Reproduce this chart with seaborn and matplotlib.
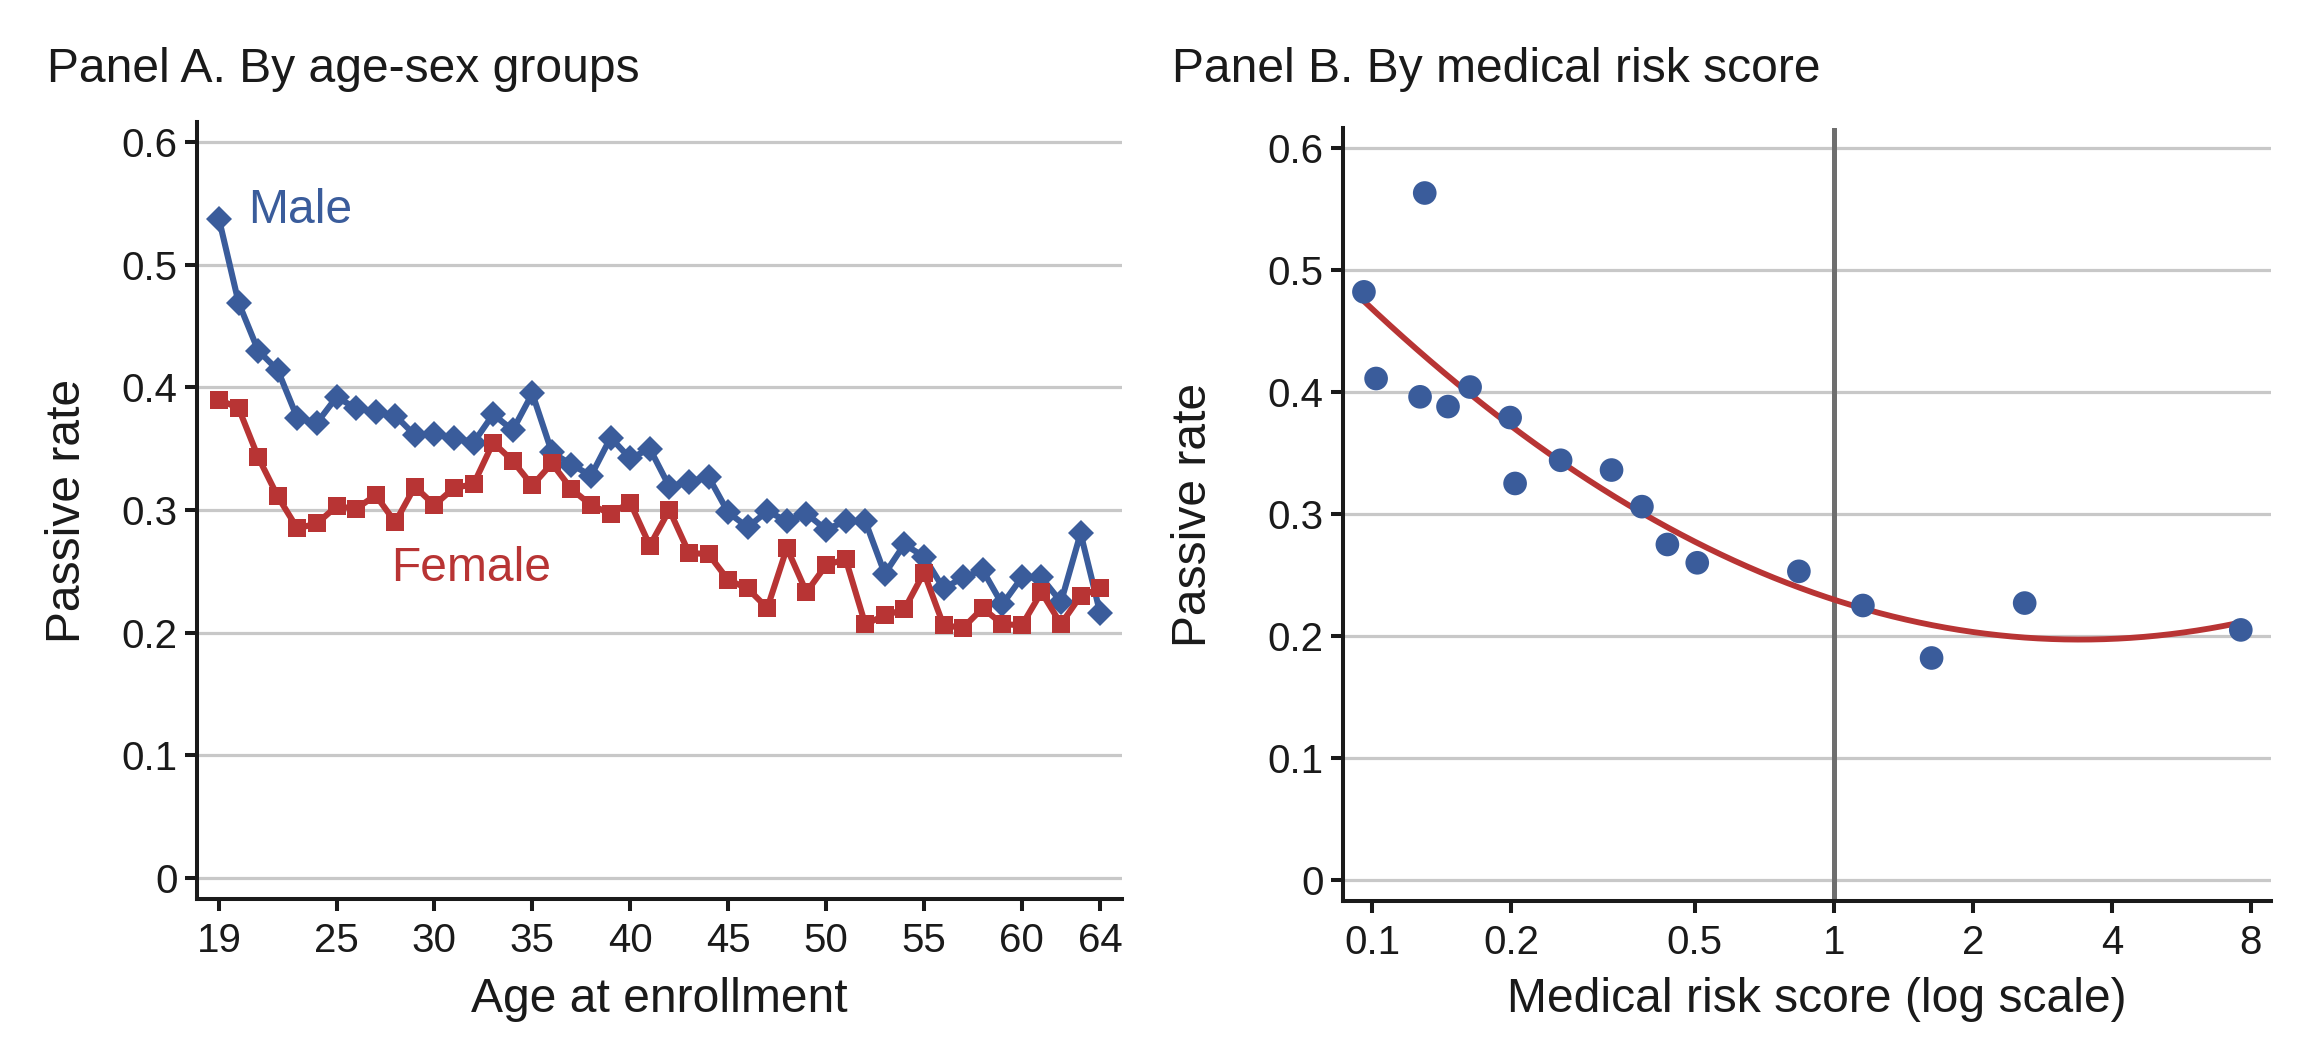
import numpy as np
import seaborn as sns
import matplotlib.pyplot as plt

# ---- data ----
ages = list(range(19, 65))
male_rate = [0.537, 0.469, 0.430, 0.414, 0.375, 0.371, 0.392, 0.383, 0.380, 0.377,
             0.361, 0.362, 0.359, 0.355, 0.378, 0.365, 0.395, 0.347, 0.337, 0.328,
             0.359, 0.342, 0.350, 0.319, 0.323, 0.327, 0.298, 0.286, 0.299, 0.291,
             0.297, 0.284, 0.291, 0.291, 0.248, 0.272, 0.262, 0.236, 0.245, 0.251,
             0.223, 0.245, 0.245, 0.225, 0.281, 0.216]
female_rate = [0.390, 0.383, 0.343, 0.311, 0.285, 0.289, 0.303, 0.301, 0.312, 0.290,
               0.319, 0.304, 0.318, 0.321, 0.355, 0.340, 0.320, 0.338, 0.317, 0.304,
               0.297, 0.306, 0.271, 0.300, 0.265, 0.264, 0.243, 0.236, 0.220, 0.269,
               0.233, 0.255, 0.260, 0.207, 0.214, 0.219, 0.249, 0.206, 0.204, 0.220,
               0.207, 0.206, 0.233, 0.207, 0.230, 0.236]

risk_score = [0.096, 0.102, 0.130, 0.127, 0.146, 0.163, 0.199, 0.204, 0.256,
              0.330, 0.384, 0.436, 0.506, 0.840, 1.156, 1.628, 2.59, 7.61]
risk_rate = [0.482, 0.411, 0.563, 0.396, 0.388, 0.404, 0.379, 0.325, 0.344,
             0.336, 0.306, 0.275, 0.260, 0.253, 0.225, 0.182, 0.227, 0.205]

rate_ticks = [0, 0.1, 0.2, 0.3, 0.4, 0.5, 0.6]
rate_labels = ['0', '0.1', '0.2', '0.3', '0.4', '0.5', '0.6']
age_ticks = [19, 25, 30, 35, 40, 45, 50, 55, 60, 64]
risk_ticks = [0.1, 0.2, 0.5, 1, 2, 4, 8]
risk_labels = ['0.1', '0.2', '0.5', '1', '2', '4', '8']

blue = '#3a5c9b'
red = '#b83434'
ink = '#1a1a1a'
grid_col = '#c8c8c8'
big = 34.6

sns.set_theme(style='white')
plt.rcParams['font.family'] = ['Liberation Sans', 'DejaVu Sans']
plt.rcParams.update({
    'text.color': ink, 'axes.labelcolor': ink,
    'xtick.color': ink, 'ytick.color': ink,
    'axes.edgecolor': ink, 'axes.linewidth': 2.9,
    'xtick.major.size': 8.5, 'ytick.major.size': 8.5,
    'xtick.major.width': 2.9, 'ytick.major.width': 2.9,
    'xtick.major.pad': 8.0, 'ytick.major.pad': 5.6,
    'xtick.labelsize': 29, 'ytick.labelsize': 29,
    'xtick.bottom': True, 'ytick.left': True,
})

fig = plt.figure(figsize=(23.16, 10.48), dpi=100)
axA = fig.add_axes([0.0851, 0.1422, 0.3994, 0.7414])
axB = fig.add_axes([0.5799, 0.1403, 0.4007, 0.7376])


def style_axis(ax):
    sns.despine(ax=ax)
    ax.set_ylim(-0.0171, 0.6163)
    ax.set_yticks(rate_ticks)
    ax.set_yticklabels(rate_labels)
    for t in rate_ticks:
        ax.axhline(t, color=grid_col, lw=2.3, zorder=0.5)
    ax.set_ylabel('Passive rate', fontsize=big, va='baseline')
    ax.tick_params(which='minor', length=0)


# Panel A
sns.lineplot(x=ages, y=male_rate, ax=axA, color=blue, marker='D',
             markersize=13.5, markeredgewidth=0, zorder=3)
axA.lines[-1].set_linewidth(4.4)
sns.lineplot(x=ages, y=female_rate, ax=axA, color=red, marker='s',
             markersize=13.5, markeredgewidth=0, zorder=4)
axA.lines[-1].set_linewidth(4.4)
style_axis(axA)
axA.set_xlim(17.88, 65.12)
axA.set_xticks(age_ticks)
axA.set_xticklabels([str(a) for a in age_ticks])
axA.set_xlabel('Age at enrollment', fontsize=big, va='baseline')
axA.xaxis.set_label_coords(0.5, -0.1454)
axA.yaxis.set_label_coords(-0.1265, 0.5)
axA.text(20.5, 0.534, 'Male', color=blue, fontsize=big, va='baseline')
axA.text(27.8, 0.242, 'Female', color=red, fontsize=big, va='baseline')

# Panel B
axB.set_xscale('log')
axB.axvline(1, color='#6e6e6e', lw=3.6, zorder=1)
u = np.log10(risk_score)
coef = np.polyfit(u, risk_rate, 2)
grid_u = np.linspace(u.min(), u.max(), 200)
axB.plot(10 ** grid_u, np.polyval(coef, grid_u), color=red, lw=4.2, zorder=2)
sns.scatterplot(x=risk_score, y=risk_rate, ax=axB, color=blue, s=290,
                edgecolor='none', zorder=3)
style_axis(axB)
axB.set_xlim(0.0865, 8.85)
axB.set_xticks(risk_ticks)
axB.set_xticklabels(risk_labels)
axB.minorticks_off()
axB.set_xlabel('Medical risk score (log scale)', fontsize=big, va='baseline')
axB.xaxis.set_label_coords(0.51, -0.1436)
axB.yaxis.set_label_coords(-0.1476, 0.5)

fig.text(47 / 2316, 1 - 82 / 1048, 'Panel A. By age-sex groups', fontsize=big,
         va='baseline')
fig.text(1172 / 2316, 1 - 82 / 1048, 'Panel B. By medical risk score', fontsize=big,
         va='baseline')

fig.savefig('out.png', dpi=100, facecolor='white')
